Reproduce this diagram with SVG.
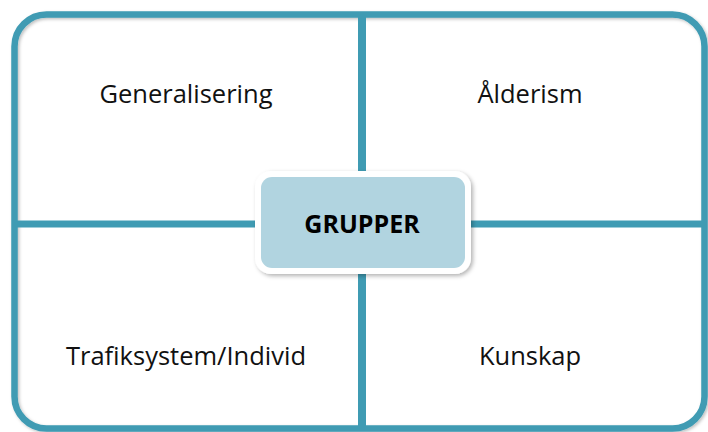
<svg xmlns="http://www.w3.org/2000/svg" width="708" height="432" viewBox="0 0 708 432">
  <defs>
    <filter id="sh" x="-20%" y="-20%" width="140%" height="140%">
      <feDropShadow dx="2" dy="2" stdDeviation="2" flood-color="#000" flood-opacity="0.3"/>
    </filter>
    <filter id="sh2" x="-5%" y="-5%" width="110%" height="110%">
      <feDropShadow dx="1.5" dy="1.5" stdDeviation="1.5" flood-color="#000" flood-opacity="0.25"/>
    </filter>
  </defs>
  <style>
    .ln { stroke: #3f9bb3; fill: none; }
    .lbl { font-family: "Open Sans", "Liberation Sans", sans-serif; font-size: 25.5px; fill: #111; text-anchor: middle; }
    .ctr { font-family: "Open Sans", "Liberation Sans", sans-serif; font-size: 25px; font-weight: bold; fill: #000; text-anchor: middle; }
  </style>
  <rect width="708" height="432" fill="#fff"/>
  <g id="frame" filter="url(#sh2)">
    <rect class="ln" x="14.5" y="14.5" width="690" height="414" rx="32" ry="32" stroke-width="6.5"/>
  </g>
  <g id="connectors">
    <line class="ln" x1="362" y1="14" x2="362" y2="429" stroke-width="8"/>
    <line class="ln" x1="14" y1="224" x2="705" y2="224" stroke-width="7"/>
  </g>
  <g id="q1"><text class="lbl" x="186" y="103">Generalisering</text></g>
  <g id="q2"><text class="lbl" x="530" y="103">Ålderism</text></g>
  <g id="q3"><text class="lbl" x="186" y="365">Trafiksystem/Individ</text></g>
  <g id="q4"><text class="lbl" x="530" y="365">Kunskap</text></g>
  <g id="center">
    <rect x="255" y="171" width="216" height="103" rx="16" fill="#fff" filter="url(#sh)"/>
    <rect x="261" y="177" width="204" height="91" rx="11" fill="#b1d4e0"/>
    <text class="ctr" x="362" y="233">GRUPPER</text>
  </g>
</svg>
